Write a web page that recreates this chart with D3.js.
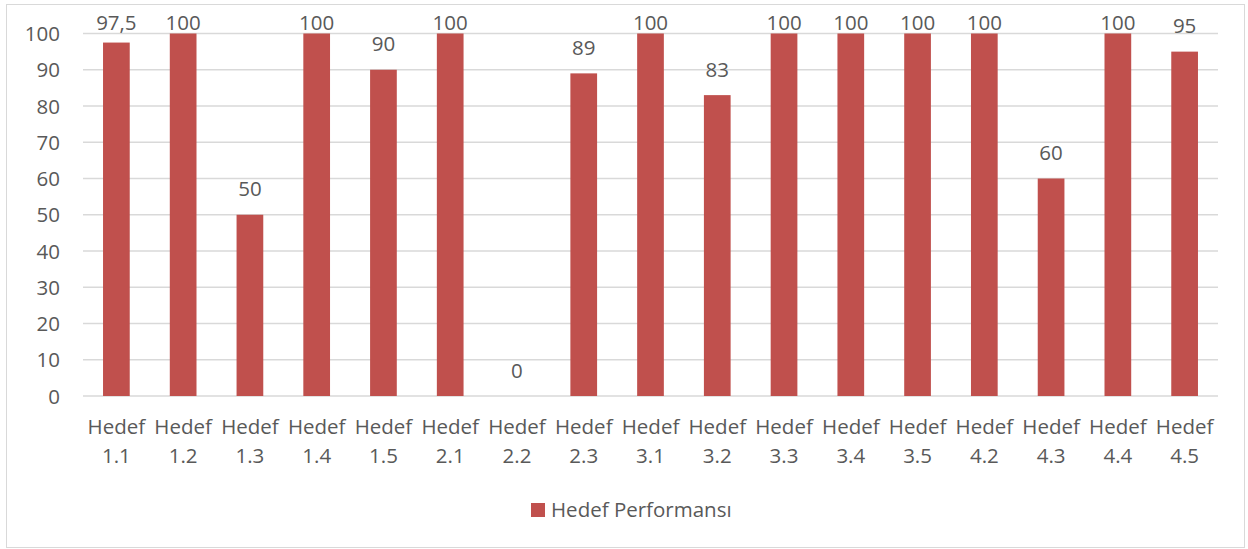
<!DOCTYPE html>
<html>
<head>
<meta charset="utf-8">
<script src="https://cdn.jsdelivr.net/npm/d3@7"></script>
<style>
  html, body { margin: 0; padding: 0; background: #fff; }
  svg text { font-family: "Open Sans", "DejaVu Sans", sans-serif; fill: #595959; }
</style>
</head>
<body>
<svg id="chart" width="1248" height="549"></svg>
<script>
const categories = ["Hedef 1.1","Hedef 1.2","Hedef 1.3","Hedef 1.4","Hedef 1.5","Hedef 2.1","Hedef 2.2","Hedef 2.3","Hedef 3.1","Hedef 3.2","Hedef 3.3","Hedef 3.4","Hedef 3.5","Hedef 4.2","Hedef 4.3","Hedef 4.4","Hedef 4.5"];
const values = [97.5, 100, 50, 100, 90, 100, 0, 89, 100, 83, 100, 100, 100, 100, 60, 100, 95];
const yTicks = [0, 10, 20, 30, 40, 50, 60, 70, 80, 90, 100];
const seriesName = "Hedef Performansı";

const svg = d3.select("#chart");
const plot = { left: 83, right: 1218, top: 33.5, bottom: 396 };
const barColor = "#c0504d";
const gridColor = "#d9d9d9";
const fs = 20.5;

// outer border
svg.append("rect").attr("x", 6.5).attr("y", 4.5).attr("width", 1238).attr("height", 543)
  .attr("fill", "#fff").attr("stroke", gridColor).attr("stroke-width", 1);

const x = d3.scaleBand().domain(categories).range([plot.left, plot.right]).paddingInner(0.6).paddingOuter(0.3);
const y = d3.scaleLinear().domain([0, 100]).range([plot.bottom, plot.top]);

// gridlines
svg.append("g").selectAll("line").data(yTicks).join("line")
  .attr("x1", plot.left).attr("x2", plot.right)
  .attr("y1", d => y(d)).attr("y2", d => y(d))
  .attr("stroke", gridColor).attr("stroke-width", 1.5);

// y axis labels
const yAxis = d3.axisLeft(y).tickValues(yTicks).tickSize(0).tickPadding(0);
const gy = svg.append("g").attr("transform", `translate(60,0)`).call(yAxis);
gy.select(".domain").remove();
gy.selectAll("text").attr("font-size", fs).attr("fill", "#595959")
  .style("font-family", '"Open Sans", sans-serif').attr("dy", "0.35em");

// bars
svg.append("g").selectAll("rect").data(values).join("rect")
  .attr("x", (d, i) => x(categories[i]))
  .attr("y", d => y(d))
  .attr("width", x.bandwidth())
  .attr("height", d => y(0) - y(d))
  .attr("fill", barColor);

// data labels
const loc = d3.formatLocale({ decimal: ",", thousands: ".", grouping: [3], currency: ["", ""] });
const fmt = v => Number.isInteger(v) ? String(v) : loc.format(".1f")(v);
svg.append("g").selectAll("text").data(values).join("text")
  .attr("x", (d, i) => x(categories[i]) + x.bandwidth() / 2)
  .attr("y", d => Math.max(y(d) - 25.5, 23))
  .attr("dy", "0.35em")
  .attr("text-anchor", "middle")
  .attr("font-size", fs)
  .attr("fill", "#404040")
  .text(d => fmt(d));

// x axis labels (two lines)
const xl = svg.append("g").selectAll("text").data(categories).join("text")
  .attr("text-anchor", "middle")
  .attr("font-size", fs)
  .attr("transform", d => `translate(${x(d) + x.bandwidth() / 2},0)`);
xl.append("tspan").attr("x", 0).attr("y", 434).text(d => d.split(" ")[0]);
xl.append("tspan").attr("x", 0).attr("y", 463).text(d => d.split(" ")[1]);

// legend
const lg = svg.append("g").attr("transform", "translate(531,503)");
lg.append("rect").attr("width", 14).attr("height", 14).attr("fill", barColor);
lg.append("text").attr("x", 20).attr("y", 7).attr("dy", "0.35em").attr("font-size", fs).text(seriesName);
</script>
</body>
</html>
